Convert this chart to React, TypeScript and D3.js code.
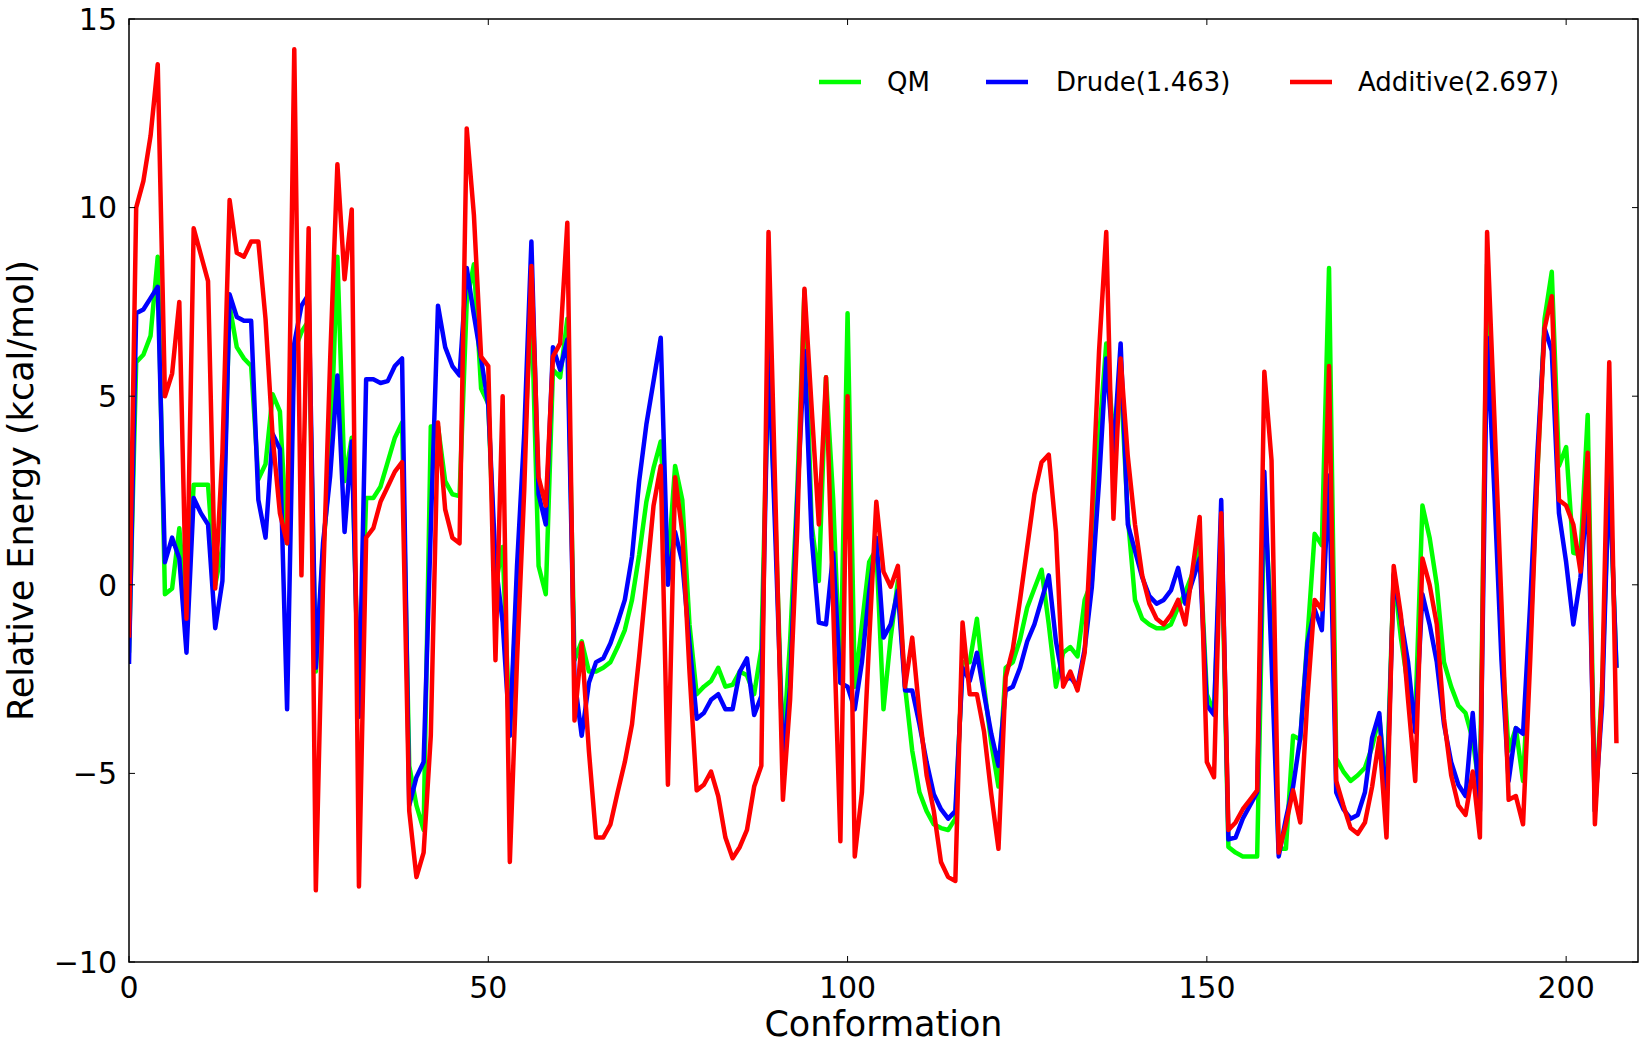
import React from "react";
import * as d3 from "d3";

const qm: number[] = [
  -1.8, 5.9, 6.1, 6.6, 8.7, -0.25, -0.1, 1.5, -0.8, 2.65,
  2.65, 2.65, 0.0, 1.0, 7.4, 6.3, 6.0, 5.8, 2.8, 3.2,
  5.05, 4.6, 1.1, 6.2, 6.7, 7.0, -2.3, 0.9, 3.25, 8.7,
  2.75, 3.9, -3.5, 2.3, 2.3, 2.6, 3.25, 3.9, 4.3, -4.8,
  -5.85, -6.5, 4.2, 4.2, 2.75, 2.4, 2.35, 7.5, 8.5, 5.2,
  4.8, 0.0, 1.0, -4.0, 0.0, 3.5, 7.5, 0.5, -0.25, 5.7,
  5.5, 7.05, -2.0, -1.5, -2.3, -2.3, -2.2, -2.05, -1.65, -1.2,
  -0.4, 0.8, 2.2, 3.1, 3.8, 0.5, 3.15, 2.25, -1.05, -2.9,
  -2.7, -2.55, -2.2, -2.7, -2.65, -2.3, -2.4, -2.9, -1.7, 6.0,
  1.5, -4.4, -1.5, 2.5, 7.8, 1.6, 0.1, 5.5, 2.25, -2.6,
  7.2, -2.7, -1.05, 0.6, 0.95, -3.3, -1.4, 0.1, -2.7, -4.4,
  -5.5, -6.0, -6.35, -6.45, -6.5, -6.2, -2.05, -2.05, -0.9, -2.7,
  -4.2, -5.35, -2.2, -2.05, -1.45, -0.6, -0.1, 0.4, -1.05, -2.7,
  -1.8, -1.65, -1.9, -0.4, 0.1, 3.9, 6.4, 3.9, 5.5, 1.8,
  -0.4, -0.9, -1.05, -1.15, -1.15, -1.05, -0.6, -0.2, 0.3, 1.0,
  -2.9, -3.4, 1.5, -6.95, -7.1, -7.2, -7.2, -7.2, 2.2, -1.0,
  -7.0, -7.0, -4.0, -4.1, -1.4, 1.35, 1.05, 8.4, -4.6, -4.95,
  -5.2, -5.05, -4.85, -4.3, -3.5, -5.5, 0.3, -1.4, -2.7, -3.55,
  2.1, 1.25, 0.0, -2.05, -2.7, -3.2, -3.4, -4.1, -5.5, 8.5,
  3.0, -1.5, -4.4, -3.8, -5.2, -1.5, 3.0, 7.05, 8.3, 3.15,
  3.65, 0.85, 0.8, 4.5, -6.0, -2.7, 3.0, -2.2,
];

const drude: number[] = [
  -2.1, 7.2, 7.3, 7.6, 7.9, 0.6, 1.25, 0.7, -1.8, 2.3,
  1.9, 1.6, -1.15, 0.1, 7.7, 7.1, 7.0, 7.0, 2.25, 1.25,
  4.0, 3.6, -3.3, 6.4, 7.4, 7.7, -2.2, 1.1, 2.9, 5.55,
  1.4, 3.8, -3.5, 5.45, 5.45, 5.35, 5.4, 5.8, 6.0, -5.85,
  -5.1, -4.7, 1.5, 7.4, 6.3, 5.8, 5.55, 8.4, 7.15, 6.0,
  4.75, 0.6, -1.0, -4.0, 0.5, 4.0, 9.1, 2.4, 1.6, 6.3,
  5.7, 6.5, -2.5, -4.0, -2.6, -2.05, -1.95, -1.55, -1.0, -0.4,
  0.75, 2.75, 4.25, 5.4, 6.55, 0.0, 1.4, 0.6, -1.55, -3.55,
  -3.4, -3.05, -2.9, -3.3, -3.3, -2.3, -1.95, -3.45, -2.95, 6.3,
  1.0, -4.6, -2.7, 2.25, 6.2, 1.25, -1.0, -1.05, 0.85, -2.6,
  -2.7, -3.3, -2.05, -0.2, 1.25, -1.4, -1.05, -0.15, -2.8, -2.8,
  -3.7, -4.7, -5.55, -5.95, -6.2, -6.0, -2.2, -2.55, -1.8, -2.9,
  -3.95, -4.8, -2.8, -2.7, -2.2, -1.5, -1.05, -0.4, 0.25, -1.5,
  -2.55, -2.45, -2.7, -1.7, -0.05, 2.75, 6.0, 3.5, 6.4, 1.6,
  0.9, 0.2, -0.3, -0.5, -0.4, -0.15, 0.45, -0.5, 0.1, 0.7,
  -3.2, -3.45, 2.25, -6.75, -6.7, -6.2, -5.85, -5.5, 3.0, -2.0,
  -7.2, -6.2, -5.35, -4.05, -1.55, -0.65, -1.2, 2.9, -5.5, -5.95,
  -6.2, -6.1, -5.5, -4.05, -3.4, -6.0, 0.25, -0.9, -2.05, -3.9,
  -0.25, -1.05, -2.05, -3.7, -4.7, -5.3, -5.6, -3.4, -6.0, 6.55,
  2.5, -2.0, -5.2, -3.8, -3.95, -0.5, 3.5, 6.8, 6.2, 1.9,
  0.6, -1.05, 0.2, 2.5, -6.0, -3.2, 3.1, -2.2,
];

const additive: number[] = [
  -1.4, 10.0, 10.7, 11.9, 13.8, 5.0, 5.6, 7.5, -0.9, 9.45,
  8.75, 8.05, -0.1, 3.5, 10.2, 8.8, 8.7, 9.1, 9.1, 7.05,
  3.9, 1.9, 1.1, 14.2, 0.25, 9.45, -8.1, 0.0, 6.0, 11.15,
  8.1, 9.95, -8.0, 1.25, 1.5, 2.2, 2.6, 3.0, 3.25, -6.0,
  -7.75, -7.1, -4.0, 4.3, 2.0, 1.25, 1.1, 12.1, 9.8, 6.05,
  5.8, -2.0, 5.0, -7.35, -2.0, 2.5, 8.45, 2.85, 2.1, 6.05,
  6.4, 9.6, -3.6, -1.55, -4.4, -6.7, -6.7, -6.35, -5.5, -4.7,
  -3.7, -1.9, 0.1, 2.1, 3.15, -5.3, 2.85, 1.4, -2.3, -5.45,
  -5.3, -4.95, -5.6, -6.7, -7.25, -6.95, -6.5, -5.35, -4.8, 9.35,
  2.0, -5.7, -3.05, 1.5, 7.85, 4.7, 1.6, 5.5, -0.6, -6.8,
  5.0, -7.2, -5.5, -1.5, 2.2, 0.35, -0.05, 0.5, -2.7, -1.4,
  -3.4, -5.05, -6.0, -7.35, -7.75, -7.85, -1.0, -2.9, -2.9, -3.9,
  -5.55, -7.0, -2.45, -1.7, -0.4, 1.0, 2.4, 3.25, 3.45, 1.4,
  -2.7, -2.3, -2.8, -1.8, 1.9, 6.2, 9.35, 1.75, 6.0, 3.4,
  1.6, 0.25, -0.5, -0.9, -1.05, -0.8, -0.4, -1.05, 0.4, 1.8,
  -4.7, -5.1, 1.9, -6.5, -6.3, -5.95, -5.7, -5.45, 5.65, 3.3,
  -7.1, -6.35, -5.45, -6.3, -3.0, -0.4, -0.65, 5.8, -5.2, -5.85,
  -6.45, -6.6, -6.3, -5.35, -4.05, -6.7, 0.5, -0.8, -3.05, -5.2,
  0.7, 0.0, -1.05, -3.55, -5.05, -5.85, -6.1, -4.95, -6.7, 9.35,
  4.5, -0.5, -5.7, -5.6, -6.35, -2.0, 3.0, 6.8, 7.65, 2.25,
  2.1, 1.6, 0.35, 3.5, -6.35, -2.8, 5.9, -4.2,
];

const seriesNames = ["QM", "Drude(1.463)", "Additive(2.697)"];
const seriesColors = ["#00ff00", "#0000ff", "#ff0000"];
const xTicks = [0, 50, 100, 150, 200];
const yTicks = [-10, -5, 0, 5, 10, 15];

const W = 1642;
const H = 1043;
const L = 129, R = 1638, T = 19, B = 962;
const FONT = "'DejaVu Sans', sans-serif";

export default function App() {
  const x = d3.scaleLinear().domain([0, 210]).range([L, R]);
  const y = d3.scaleLinear().domain([-10, 15]).range([B, T]);
  const line = d3
    .line<number>()
    .x((_, i) => x(i))
    .y((d) => y(d));
  const all = [qm, drude, additive];
  const fmt = (v: number) => (v < 0 ? "\u2212" + Math.abs(v) : String(v));
  const legendX = [819, 986, 1290];
  const legendTextX = [887, 1056, 1358];
  const legendY = 82;

  return (
    <svg
      width={W}
      height={H}
      style={{ position: "absolute", left: 0, top: 0, background: "#fff" }}
      fontFamily={FONT}
    >
      <defs>
        <clipPath id="plot">
          <rect x={L} y={T} width={R - L} height={B - T} />
        </clipPath>
      </defs>
      <rect x={0} y={0} width={W} height={H} fill="#fff" />
      <g clipPath="url(#plot)">
        {all.map((s, k) => (
          <path
            key={k}
            d={line(s) || ""}
            fill="none"
            stroke={seriesColors[k]}
            strokeWidth={4.5}
            strokeLinejoin="round"
          />
        ))}
      </g>
      <rect x={L} y={T} width={R - L} height={B - T} fill="none" stroke="#000" strokeWidth={1.5} />
      {xTicks.map((t) => (
        <g key={"x" + t}>
          <line x1={x(t)} x2={x(t)} y1={B} y2={B - 6} stroke="#000" strokeWidth={1} />
          <line x1={x(t)} x2={x(t)} y1={T} y2={T + 6} stroke="#000" strokeWidth={1} />
          <text x={x(t)} y={998} fontSize={30} textAnchor="middle" fill="#000">
            {fmt(t)}
          </text>
        </g>
      ))}
      {yTicks.map((t) => (
        <g key={"y" + t}>
          <line x1={L} x2={L + 6} y1={y(t)} y2={y(t)} stroke="#000" strokeWidth={1} />
          <line x1={R} x2={R - 6} y1={y(t)} y2={y(t)} stroke="#000" strokeWidth={1} />
          <text x={117} y={y(t)} dy="0.36em" fontSize={30} textAnchor="end" fill="#000">
            {fmt(t)}
          </text>
        </g>
      ))}
      <text x={(L + R) / 2} y={1036} fontSize={35} textAnchor="middle" fill="#000">
        Conformation
      </text>
      <text
        transform={`translate(33, ${(T + B) / 2}) rotate(-90)`}
        fontSize={35}
        textAnchor="middle"
        fill="#000"
      >
        Relative Energy (kcal/mol)
      </text>
      {seriesNames.map((n, k) => (
        <g key={n}>
          <line
            x1={legendX[k]}
            x2={legendX[k] + 42}
            y1={legendY}
            y2={legendY}
            stroke={seriesColors[k]}
            strokeWidth={4.5}
          />
          <text x={legendTextX[k]} y={legendY} dy="0.36em" fontSize={26} fill="#000">
            {n}
          </text>
        </g>
      ))}
    </svg>
  );
}
